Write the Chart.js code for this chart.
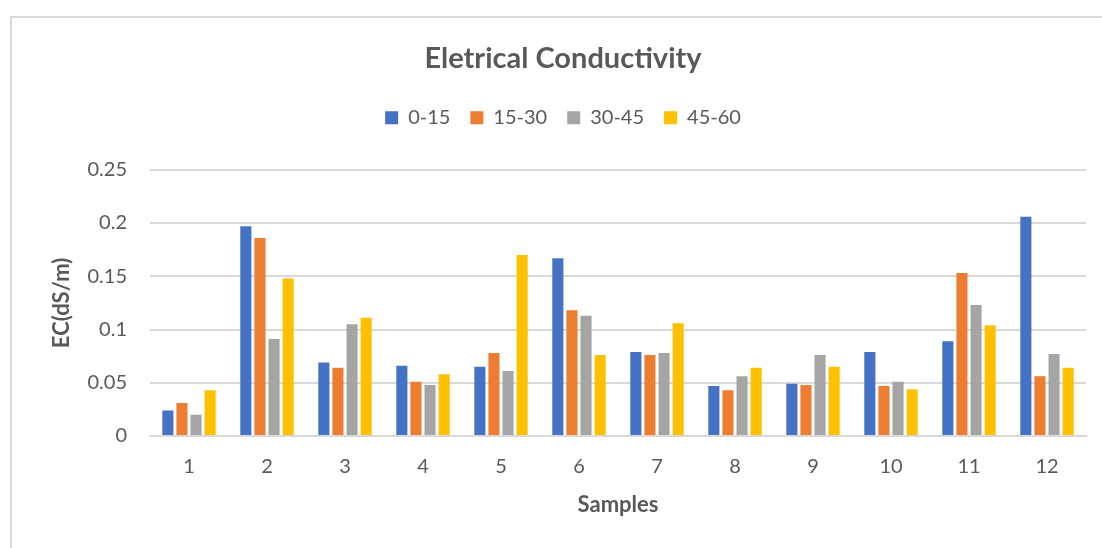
<!DOCTYPE html>
<html>
<head>
<meta charset="utf-8">
<script src="https://cdn.jsdelivr.net/npm/chart.js@4.4.1/dist/chart.umd.min.js"></script>
<style>
  html, body { margin: 0; padding: 0; background: #ffffff; }
  #wrap { position: relative; width: 1102px; height: 548px; }
</style>
</head>
<body>
<div id="wrap"><canvas id="ec" width="1102" height="548"></canvas></div>
<script>
// Sample numbers along the x axis
const samples = ['1', '2', '3', '4', '5', '6', '7', '8', '9', '10', '11', '12'];

// Electrical conductivity (dS/m) by soil depth (cm)
const depth0to15  = [0.024, 0.197, 0.069, 0.066, 0.065, 0.167, 0.079, 0.047, 0.049, 0.079, 0.089, 0.206];
const depth15to30 = [0.031, 0.186, 0.064, 0.051, 0.078, 0.118, 0.076, 0.043, 0.048, 0.047, 0.153, 0.056];
const depth30to45 = [0.020, 0.091, 0.105, 0.048, 0.061, 0.113, 0.078, 0.056, 0.076, 0.051, 0.123, 0.077];
const depth45to60 = [0.043, 0.148, 0.111, 0.058, 0.170, 0.076, 0.106, 0.064, 0.065, 0.044, 0.104, 0.064];

// Depth ranges for the legend
const depthLabels = ['0-15', '15-30', '30-45', '45-60'];

// Value axis ticks and their labels
const yTicks = [0, 0.05, 0.1, 0.15, 0.2, 0.25];
const yTickLabels = ['0', '0.05', '0.1', '0.15', '0.2', '0.25'];

const colours = ['#4472C4', '#ED7D31', '#A5A5A5', '#FFC000'];
const textGrey = '#595959';
const gridGrey = '#D9D9D9';
const fontFamily = 'Lato, "Open Sans", "Liberation Sans", sans-serif';

const seriesValues = [depth0to15, depth15to30, depth30to45, depth45to60];

// Thin frame around the chart
const framePlugin = {
  id: 'frame',
  beforeDraw(chart) {
    const ctx = chart.ctx;
    ctx.save();
    ctx.strokeStyle = gridGrey;
    ctx.lineWidth = 2;
    ctx.beginPath();
    ctx.moveTo(11, chart.height + 5);
    ctx.lineTo(11, 17);
    ctx.lineTo(chart.width + 5, 17);
    ctx.stroke();
    ctx.restore();
  }
};

// Extra room between the legend row and the plot area
const legendGapPlugin = {
  id: 'legendGap',
  afterInit(chart) {
    const legend = chart.legend;
    if (!legend) return;
    const baseFit = Object.getPrototypeOf(legend).fit;
    legend.fit = function () {
      baseFit.call(this);
      this.height += 32;
    };
  }
};

new Chart(document.getElementById('ec'), {
  type: 'bar',
  data: {
    labels: samples,
    datasets: depthLabels.map((name, i) => ({
      label: name,
      data: seriesValues[i],
      backgroundColor: colours[i],
      borderWidth: 0,
      categoryPercentage: 0.723,
      barPercentage: 0.787
    }))
  },
  options: {
    responsive: false,
    animation: false,
    devicePixelRatio: 1,
    layout: { padding: { left: 40, right: 16, top: 0, bottom: 0 } },
    plugins: {
      title: {
        display: true,
        text: 'Eletrical Conductivity',
        color: textGrey,
        font: { family: fontFamily, size: 29, weight: 'bold', lineHeight: 1.2 },
        padding: { top: 41, bottom: 12 }
      },
      legend: {
        display: true,
        position: 'top',
        labels: {
          color: textGrey,
          font: { family: fontFamily, size: 20 },
          boxWidth: 13,
          boxHeight: 13,
          padding: 20
        }
      },
      tooltip: { enabled: false }
    },
    scales: {
      x: {
        grid: { display: false, drawTicks: false },
        border: { display: true, color: gridGrey, width: 2 },
        ticks: {
          color: textGrey,
          font: { family: fontFamily, size: 20, lineHeight: 1.2 },
          padding: 19,
          maxRotation: 0
        },
        title: {
          display: true,
          text: 'Samples',
          color: textGrey,
          font: { family: fontFamily, size: 22, weight: 'bold', lineHeight: 1.2 },
          padding: { top: 0, bottom: 30 }
        },
        afterFit(scale) { scale.height = 112; }
      },
      y: {
        min: 0,
        max: 0.25,
        afterBuildTicks(scale) { scale.ticks = yTicks.map(v => ({ value: v })); },
        grid: { color: gridGrey, lineWidth: 2, drawTicks: false },
        border: { display: false },
        ticks: {
          color: textGrey,
          font: { family: fontFamily, size: 20 },
          padding: 23,
          callback: (value, index) => yTickLabels[index]
        },
        title: {
          display: true,
          text: 'EC(dS/m)',
          color: textGrey,
          font: { family: fontFamily, size: 22, weight: 'bold', lineHeight: 1.2 },
          padding: { top: 9, bottom: 0 }
        },
        afterFit(scale) { scale.width = 110; }
      }
    }
  },
  plugins: [framePlugin, legendGapPlugin]
});
</script>
</body>
</html>
